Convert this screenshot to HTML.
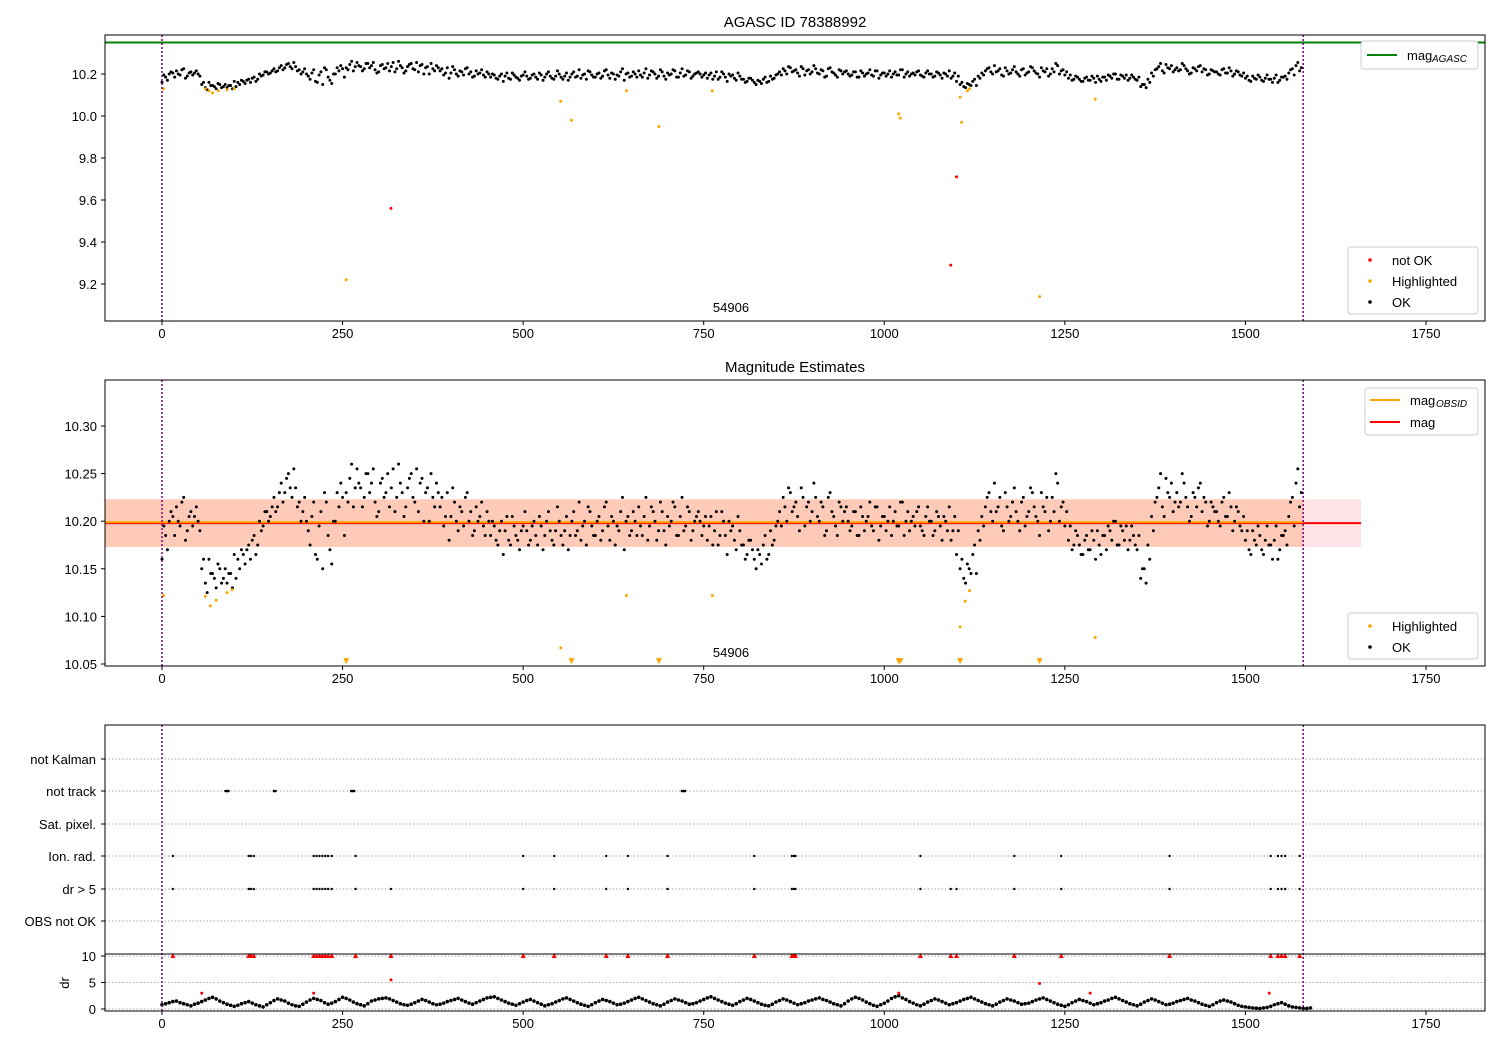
<!DOCTYPE html>
<html><head><meta charset="utf-8"><style>
body{margin:0;background:#fff}
svg{font-family:"Liberation Sans",sans-serif}
</style></head><body>
<svg id="c" width="1500" height="1050" xmlns="http://www.w3.org/2000/svg"></svg>
<script>
// magnitudes (thousandths above 10.000), one per 5 time units
const magX0 = 0, magStep = 5;
const magVals = [160,185,200,205,215,195,225,190,210,205,200,150,135,160,145,130,150,140,135,145,165,160,170,155,175,180,165,200,195,210,205,225,215,240,230,250,225,235,220,210,200,175,220,160,210,230,185,155,200,215,225,230,245,215,255,235,225,250,240,220,210,245,230,215,255,225,240,205,235,250,220,210,245,230,200,225,240,215,195,230,205,220,190,210,225,200,185,215,205,195,210,185,195,175,200,190,180,205,185,170,195,190,180,200,175,195,185,210,180,190,200,175,205,185,210,190,180,200,215,195,185,205,190,220,180,200,195,210,170,205,190,200,215,185,225,195,210,180,220,190,205,200,215,185,225,195,210,190,205,200,195,180,205,190,175,210,185,200,195,170,190,175,165,180,160,170,155,185,165,175,195,210,225,200,230,215,205,235,195,220,210,225,200,215,190,230,205,185,215,210,200,195,210,185,205,200,220,190,215,195,205,200,185,210,195,220,200,190,205,210,195,185,215,200,190,205,180,200,215,190,165,150,140,155,145,175,190,205,215,230,200,210,225,190,215,205,235,200,220,195,210,230,205,185,215,225,200,210,240,215,195,180,170,190,175,165,185,170,180,190,165,185,195,180,200,175,190,195,180,185,170,140,150,175,205,220,235,215,245,225,210,230,220,240,215,205,225,235,210,220,200,215,210,195,225,205,215,200,210,190,180,170,190,175,185,165,195,175,180,160,185,190,205,225,240,215];
const mag2X0 = 2.5;
const magVals2 = [195,170,210,185,200,220,180,205,195,215,190,160,125,145,140,155,135,150,145,130,140,150,165,170,160,185,175,190,210,200,215,210,230,220,245,235,255,215,200,225,190,205,165,195,150,220,170,200,230,240,185,220,260,235,240,215,250,230,255,205,240,225,250,235,210,260,230,215,245,225,255,240,200,235,250,215,230,225,205,180,235,200,215,195,230,210,190,200,220,185,200,200,180,190,165,205,175,195,180,190,210,175,195,185,205,170,200,190,175,215,185,190,170,200,185,220,195,175,210,185,200,180,215,195,205,175,190,225,200,185,210,185,195,205,180,215,200,190,210,175,195,220,185,205,190,215,180,200,210,185,205,195,175,210,185,200,165,190,180,205,175,160,180,170,150,165,175,160,190,180,200,195,215,235,210,220,190,225,215,200,240,205,220,185,225,210,195,220,200,215,190,210,185,215,190,205,195,215,180,205,190,215,200,195,220,185,210,200,195,215,190,205,200,185,210,195,205,190,180,205,190,160,135,150,165,145,180,195,225,210,240,215,195,230,200,220,210,190,225,205,235,215,200,230,210,190,225,250,200,220,210,195,175,185,165,180,170,190,160,175,185,170,190,200,175,195,180,170,195,175,185,150,135,160,190,225,250,205,230,240,220,215,250,225,200,230,215,240,225,195,220,210,200,220,205,230,190,215,195,205,190,165,180,195,170,180,175,160,195,170,185,175,220,195,255,230];
const hlX = [2,60,65,70,78,90,100,255,552,567,643,688,762,1020,1022,1105,1107,1115,1118,1215,1292];
const hlMag = [10.13,10.13,10.12,10.11,10.12,10.125,10.13,9.22,10.07,9.98,10.12,9.95,10.12,10.01,9.99,10.09,9.97,10.12,10.13,9.14,10.08];
const badX = [317,1092,1100];
const badMag = [9.56,9.29,9.71];
const hl2X = [2,60,67,75,90,97,643,762,552,1105,1112,1118,1292,255,567,688,1020,1022,1105,1215];
const hl2Mag = [10.122,10.121,10.111,10.117,10.125,10.128,10.122,10.122,10.067,10.089,10.116,10.127,10.078,10.0,10.0,10.0,10.0,10.0,10.0,10.0];
const xTicks = [0,250,500,750,1000,1250,1500,1750];
const y1Ticks = [9.2,9.4,9.6,9.8,10.0,10.2];
const y2Ticks = [10.05,10.10,10.15,10.20,10.25,10.30];
const flagCats = ["not Kalman","not track","Sat. pixel.","Ion. rad.","dr > 5","OBS not OK"];
const notTrackX = [88,90,92,155,157,262,264,266,720,722,724];
const ionX = [15,120,123,127,210,214,218,222,226,230,235,268,500,543,615,645,700,820,872,875,877,1050,1180,1245,1395,1535,1545,1550,1555,1575];
const drBigX = [15,120,123,127,210,214,218,222,226,230,235,268,317,500,543,615,645,700,820,872,875,877,1050,1092,1100,1180,1245,1395,1535,1545,1550,1555,1575];
const drStep = 10;
const drVals = [0.8,1.2,1.5,1.0,0.6,1.1,1.7,2.2,1.5,0.9,0.5,1.0,1.4,0.8,0.4,1.2,1.9,1.5,0.8,0.5,1.3,2.0,1.6,0.9,1.4,2.2,1.7,1.0,0.6,1.5,1.9,2.1,1.6,1.0,0.7,1.2,1.8,1.3,0.8,1.1,1.6,2.0,1.4,0.9,1.5,2.1,2.3,1.7,1.1,0.7,1.3,1.8,1.2,0.6,1.0,1.6,2.1,1.5,0.9,0.5,1.2,1.8,1.4,0.8,1.1,1.7,2.2,1.6,1.0,0.6,1.3,1.9,1.5,0.9,1.2,1.8,2.3,1.7,1.1,0.7,1.4,2.0,1.5,0.9,0.6,1.3,1.9,1.4,0.8,1.2,1.7,2.1,1.6,1.0,0.6,1.5,2.2,1.7,1.0,0.5,1.1,2.0,2.5,1.8,1.1,0.6,1.3,1.9,1.4,0.8,1.2,1.8,2.2,1.6,1.0,0.6,1.3,1.9,1.5,0.9,1.1,1.7,2.1,1.5,0.9,0.5,1.2,1.8,1.4,0.8,1.2,1.7,2.2,1.6,1.0,0.6,1.3,1.9,1.4,0.8,1.1,1.6,2.0,1.5,0.9,0.5,1.2,1.7,1.3,0.7,0.4,0.2,0.1,0.3,0.8,1.2,0.6,0.3,0.1,0.2];
const drStep2 = 10, dr2X0 = 5;
const drVals2 = [1.0,1.4,1.2,0.8,0.9,1.4,2.0,1.9,1.2,0.7,0.7,1.2,1.1,0.6,0.8,1.6,1.7,1.1,0.6,0.9,1.7,1.8,1.2,1.1,1.8,2.0,1.3,0.8,1.0,1.7,2.0,1.9,1.3,0.8,0.9,1.5,1.6,1.0,0.9,1.4,1.8,1.7,1.1,1.2,1.8,2.2,2.0,1.4,0.9,1.0,1.6,1.5,0.9,0.8,1.3,1.9,1.8,1.2,0.7,0.8,1.5,1.6,1.1,0.9,1.4,2.0,1.9,1.3,0.8,0.9,1.6,1.7,1.2,1.0,1.5,2.1,2.0,1.4,0.9,1.0,1.7,1.8,1.2,0.7,0.9,1.6,1.7,1.1,1.0,1.5,1.9,1.8,1.3,0.8,1.0,1.9,2.0,1.3,0.7,0.8,1.5,2.3,2.1,1.4,0.8,0.9,1.6,1.7,1.1,1.0,1.5,2.0,1.9,1.3,0.8,0.9,1.6,1.7,1.2,1.0,1.4,1.9,1.8,1.2,0.7,0.8,1.5,1.6,1.1,1.0,1.5,2.0,1.9,1.3,0.8,0.9,1.6,1.7,1.1,0.9,1.4,1.8,1.7,1.2,0.7,0.8,1.5,1.5,1.0,0.5,0.3,0.15,0.2,0.5,1.0,0.9,0.4,0.2,0.1];
const drRedX = [210,317,1020,1215,1285,1533,55];
const drRedV = [3.0,5.5,3.0,4.8,3.0,3.0,3.0];

const svg = document.getElementById('c');
const NS = 'http://www.w3.org/2000/svg';
function mk(tag, attrs, parent){const e=document.createElementNS(NS,tag);for(const k in attrs)e.setAttribute(k,attrs[k]);(parent||svg).appendChild(e);return e;}
const X = v => 162 + v*(1264/1750);
const Y1 = v => 74 + (10.2 - v)*210;
const Y2 = v => 426 + (10.30 - v)*952;
const YD = v => 1009 - v*5.3;

function axesBox(top,bottom,name){
  const r=mk('rect',{x:105,y:top,width:1380,height:bottom-top,fill:'none',stroke:'#000','stroke-width':1});
  
  
}
function xAxis(bottom,name){
  const g=mk('g',{});
  
  
  xTicks.forEach(t=>{mk('line',{x1:X(t),x2:X(t),y1:bottom,y2:bottom+4,stroke:'#000'},g);
    const tx=mk('text',{x:X(t),y:bottom+17,'font-size':13,'text-anchor':'middle'},g);tx.textContent=t;});
}
function yAxis(ticks,f,name,fmt){
  const g=mk('g',{});
  
  
  ticks.forEach(t=>{mk('line',{x1:101,x2:105,y1:f(t),y2:f(t),stroke:'#000'},g);
    const tx=mk('text',{x:97,y:f(t)+5,'font-size':13,'text-anchor':'end'},g);tx.textContent=t.toFixed(fmt);});
}
function vlines(top,bottom){
  [0,1580].forEach(v=>{const l=mk('line',{x1:X(v),x2:X(v),y1:top,y2:bottom,stroke:'purple','stroke-width':1.5,'stroke-dasharray':'2,2'});
    
    });
}
function dot(x,y,r,c,name,p){const d=mk('circle',{cx:x,cy:y,r:r,fill:c},p);return d;}
function title(txt,y){const t=mk('text',{x:795,y:y,'font-size':15,'text-anchor':'middle'});t.textContent=txt;}

// ---------- Panel 1 ----------
title('AGASC ID 78388992',27);
const l1=mk('line',{x1:105,x2:1485,y1:Y1(10.35),y2:Y1(10.35),stroke:'green','stroke-width':2});


const g1=mk('g',{});


magVals.forEach((m,i)=>dot(X(magX0+i*magStep),Y1(10+m/1000),1.5,'#000','ok-point',g1));
magVals2.forEach((m,i)=>dot(X(mag2X0+i*magStep),Y1(10+m/1000),1.5,'#000','ok-point',g1));
hlX.forEach((x,i)=>dot(X(x),Y1(hlMag[i]),1.5,'orange','highlighted-point'));
badX.forEach((x,i)=>dot(X(x),Y1(badMag[i]),1.5,'red','not-ok-point'));
vlines(35,321);
axesBox(35,321,'panel1-axes');
xAxis(321,'x-axis-1');
yAxis(y1Ticks,Y1,'y-axis-1',1);
let t=mk('text',{x:731,y:312,'font-size':13,'text-anchor':'middle'});t.textContent='54906';
// legends panel1
let lg=mk('g',{});
mk('rect',{x:1361,y:41,width:117,height:28,rx:3,fill:'#fff',stroke:'#ccc'},lg);
mk('line',{x1:1367,x2:1397,y1:55,y2:55,stroke:'green','stroke-width':2},lg);
t=mk('text',{x:1407,y:60,'font-size':13},lg);t.textContent='mag';
t=mk('text',{x:1432,y:62,'font-size':10,'font-style':'italic'},lg);t.textContent='AGASC';
lg=mk('g',{});
mk('rect',{x:1348,y:247,width:130,height:67,rx:3,fill:'#fff',stroke:'#ccc'},lg);
[['red','not OK',260],['orange','Highlighted',281],['#000','OK',302]].forEach(e=>{mk('circle',{cx:1370,cy:e[2],r:1.8,fill:e[0]},lg);const tt=mk('text',{x:1392,y:e[2]+5,'font-size':13},lg);tt.textContent=e[1];});

// ---------- Panel 2 ----------
title('Magnitude Estimates',372);
let b=mk('rect',{x:105,y:Y2(10.223),width:X(1660)-105,height:Y2(10.173)-Y2(10.223),fill:'#ffb6c1',opacity:0.4});

b=mk('rect',{x:105,y:Y2(10.223),width:X(1580)-105,height:Y2(10.173)-Y2(10.223),fill:'#ffa060',opacity:0.35});

let ln=mk('line',{x1:105,x2:X(1660),y1:Y2(10.198),y2:Y2(10.198),stroke:'red','stroke-width':2});

ln=mk('line',{x1:105,x2:X(1580),y1:Y2(10.199),y2:Y2(10.199),stroke:'orange','stroke-width':2});

const g2=mk('g',{});


magVals.forEach((m,i)=>dot(X(magX0+i*magStep),Y2(10+m/1000),1.5,'#000','ok-point',g2));
magVals2.forEach((m,i)=>dot(X(mag2X0+i*magStep),Y2(10+m/1000),1.5,'#000','ok-point',g2));
hl2X.forEach((x,i)=>{
  if(hl2Mag[i]>=10.05) dot(X(x),Y2(hl2Mag[i]),1.5,'orange','highlighted-point');
  else {const p=mk('path',{d:`M${X(x)-3},${Y2(10.053)-3} L${X(x)+3},${Y2(10.053)-3} L${X(x)},${Y2(10.053)+3} Z`,fill:'orange'});
    }
});
vlines(380,666);
axesBox(380,666,'panel2-axes');
xAxis(666,'x-axis-2');
yAxis(y2Ticks,Y2,'y-axis-2',2);
t=mk('text',{x:731,y:657,'font-size':13,'text-anchor':'middle'});t.textContent='54906';
lg=mk('g',{});
mk('rect',{x:1365,y:388,width:113,height:47,rx:3,fill:'#fff',stroke:'#ccc'},lg);
mk('line',{x1:1370,x2:1400,y1:400,y2:400,stroke:'orange','stroke-width':2},lg);
t=mk('text',{x:1410,y:405,'font-size':13},lg);t.textContent='mag';
t=mk('text',{x:1436,y:407,'font-size':10,'font-style':'italic'},lg);t.textContent='OBSID';
mk('line',{x1:1370,x2:1400,y1:422,y2:422,stroke:'red','stroke-width':2},lg);
t=mk('text',{x:1410,y:427,'font-size':13},lg);t.textContent='mag';
lg=mk('g',{});
mk('rect',{x:1348,y:613,width:130,height:46,rx:3,fill:'#fff',stroke:'#ccc'},lg);
[['orange','Highlighted',626],['#000','OK',647]].forEach(e=>{mk('circle',{cx:1370,cy:e[2],r:1.8,fill:e[0]},lg);const tt=mk('text',{x:1392,y:e[2]+5,'font-size':13},lg);tt.textContent=e[1];});

// ---------- Panel 3 ----------
const catY=[759,791,824,856,889,921];
flagCats.forEach((c,i)=>{
  const gl=mk('line',{x1:105,x2:1485,y1:catY[i],y2:catY[i],stroke:'#aaa','stroke-dasharray':'1.5,2'});
  
  mk('line',{x1:101,x2:105,y1:catY[i],y2:catY[i],stroke:'#000'});
  const tt=mk('text',{x:96,y:catY[i]+5,'font-size':13,'text-anchor':'end'});tt.textContent=c;
  
});
notTrackX.forEach(x=>dot(X(x),catY[1],1.3,'#000','not-track-flag'));
ionX.forEach(x=>dot(X(x),catY[3],1.2,'#000','ion-rad-flag'));
drBigX.forEach(x=>dot(X(x),catY[4],1.2,'#000','dr-flag'));
// dr subpanel
[10,5,0].forEach(v=>{
  const gl=mk('line',{x1:105,x2:1485,y1:YD(v),y2:YD(v),stroke:'#aaa','stroke-dasharray':'1.5,2'});
  
  mk('line',{x1:101,x2:105,y1:YD(v),y2:YD(v),stroke:'#000'});
  const tt=mk('text',{x:96,y:YD(v)+5,'font-size':13,'text-anchor':'end'});tt.textContent=v;
});
t=mk('text',{x:0,y:0,'font-size':13,'text-anchor':'middle',transform:'translate(69,983) rotate(-90)'});t.textContent='dr';

const g3=mk('g',{});


drVals.forEach((v,i)=>dot(X(i*drStep),YD(v),1.8,'#000','dr-point',g3));
drVals2.forEach((v,i)=>dot(X(dr2X0+i*drStep2),YD(v),1.8,'#000','dr-point',g3));
drBigX.forEach(x=>{const p=mk('path',{d:`M${X(x)-2.5},${YD(10)+2} L${X(x)+2.5},${YD(10)+2} L${X(x)},${YD(10)-3} Z`,fill:'red'});
  });
drRedX.forEach((x,i)=>dot(X(x),YD(drRedV[i]),1.5,'red','dr-red-point'));
vlines(725,1011);
axesBox(725,1011,'panel3-axes');
mk('line',{x1:105,x2:1485,y1:954,y2:954,stroke:'#000'});
xAxis(1011,'x-axis-3');
</script>
</body></html>
